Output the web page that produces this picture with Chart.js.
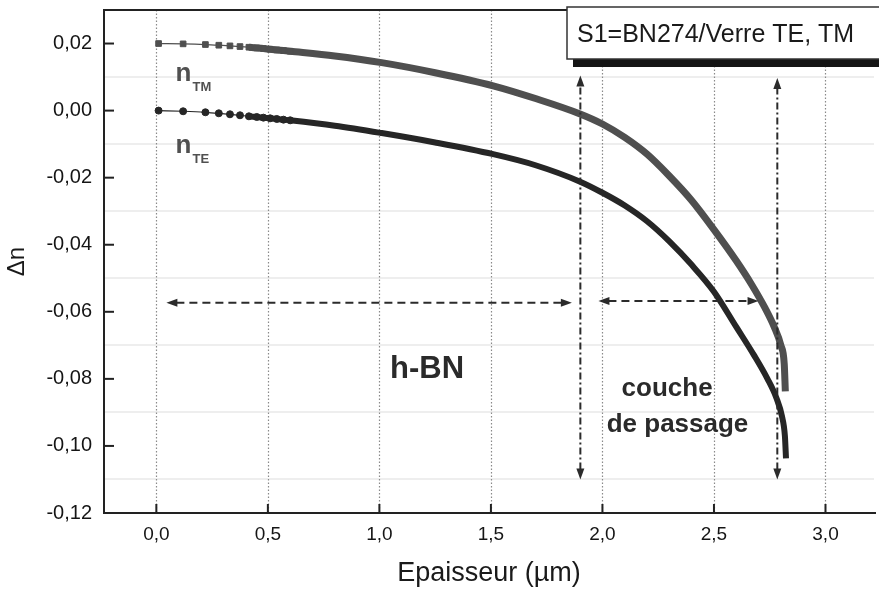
<!DOCTYPE html>
<html>
<head>
<meta charset="utf-8">
<script src="https://cdn.jsdelivr.net/npm/chart.js@4"></script>
<style>
html,body{margin:0;padding:0;background:#fff;overflow:hidden}
canvas{display:block}
</style>
</head>
<body>
<canvas id="grafico" width="879" height="591"></canvas>
<script>
// epaisseur (um) et delta n
const xTM = [0.01,0.12,0.22,0.28,0.33,0.375,0.415,0.45,0.48,0.51,0.54,0.57,0.60,0.80,1.01,1.25,1.51,1.70,1.90,2.00,2.10,2.20,2.30,2.40,2.50,2.60,2.67,2.73,2.77,2.80,2.815,2.82];
const yTM = [0.0200,0.0199,0.0197,0.0195,0.0193,0.0191,0.0189,0.0187,0.0185,0.0183,0.0181,0.0179,0.0177,0.0163,0.0143,0.0113,0.0074,0.0036,-0.0010,-0.0040,-0.0080,-0.0130,-0.0195,-0.0268,-0.0355,-0.0448,-0.0520,-0.0590,-0.0645,-0.0700,-0.0755,-0.0837];
const xTE = [0.01,0.12,0.22,0.28,0.33,0.375,0.415,0.45,0.48,0.51,0.54,0.57,0.60,0.80,1.01,1.25,1.51,1.70,1.90,2.00,2.10,2.20,2.30,2.40,2.50,2.60,2.68,2.74,2.78,2.805,2.818,2.823];
const yTE = [0.0000,-0.0002,-0.0005,-0.0008,-0.0011,-0.0014,-0.0017,-0.0019,-0.0021,-0.0023,-0.0025,-0.0027,-0.0029,-0.0045,-0.0067,-0.0095,-0.0130,-0.0163,-0.0212,-0.0245,-0.0283,-0.0330,-0.0390,-0.0460,-0.0540,-0.0645,-0.0730,-0.0800,-0.0857,-0.0912,-0.0970,-0.1037];

const xTicks = [0, 0.5, 1.0, 1.5, 2.0, 2.5, 3.0];
const yTicks = [-0.12, -0.10, -0.08, -0.06, -0.04, -0.02, 0.00, 0.02];
const yMinor = [-0.11, -0.09, -0.07, -0.05, -0.03, -0.01, 0.01];

// fleches (coordonnees en unites du graphique)
const flechesV = [{x: 1.901, y0: 0.0105, y1: -0.110}, {x: 2.784, y0: 0.0097, y1: -0.110}];
const flechesH = [{y: -0.0573, x0: 0.045, x1: 1.863}, {y: -0.0568, x0: 1.982, x1: 2.70}];

const textes = [
  {t: 'n', x: 0.086, y: 0.0087, font: 'bold 26px "Liberation Sans"', c: '#505050'},
  {t: 'TM', x: 0.162, y: 0.0057, font: 'bold 13px "Liberation Sans"', c: '#505050'},
  {t: 'n', x: 0.086, y: -0.0126, font: 'bold 26px "Liberation Sans"', c: '#505050'},
  {t: 'TE', x: 0.162, y: -0.0156, font: 'bold 13px "Liberation Sans"', c: '#505050'},
  {t: 'h-BN', x: 1.048, y: -0.0798, font: 'bold 31px "Liberation Sans"', c: '#2a2a2a'},
  {t: 'couche', x: 2.086, y: -0.0852, font: 'bold 26px "Liberation Sans"', c: '#2a2a2a'},
  {t: 'de passage', x: 2.019, y: -0.0959, font: 'bold 26px "Liberation Sans"', c: '#2a2a2a'}
];

Chart.defaults.font.family = '"Liberation Sans", Arial, sans-serif';

function pointe(ctx, x, y, ang) {
  ctx.save();
  ctx.translate(x, y);
  ctx.rotate(ang);
  ctx.beginPath();
  ctx.moveTo(0, 0);
  ctx.lineTo(-11, -4);
  ctx.lineTo(-11, 4);
  ctx.closePath();
  ctx.fill();
  ctx.restore();
}

function fleche(ctx, x0, y0, x1, y1, dash) {
  const ang = Math.atan2(y1 - y0, x1 - x0);
  const dx = Math.cos(ang) * 10, dy = Math.sin(ang) * 10;
  ctx.save();
  ctx.strokeStyle = '#2b2b2b';
  ctx.fillStyle = '#2b2b2b';
  ctx.lineWidth = 2;
  ctx.setLineDash(dash);
  ctx.beginPath();
  ctx.moveTo(x0 + dx, y0 + dy);
  ctx.lineTo(x1 - dx, y1 - dy);
  ctx.stroke();
  ctx.setLineDash([]);
  pointe(ctx, x1, y1, ang);
  pointe(ctx, x0, y0, ang + Math.PI);
  ctx.restore();
}

const habillage = {
  id: 'habillage',
  beforeDatasetsDraw(chart) {
    const {ctx, chartArea: a, scales: {x, y}} = chart;
    ctx.save();
    ctx.strokeStyle = '#eeeeee';
    ctx.lineWidth = 2;
    yMinor.forEach(v => {
      const py = Math.round(y.getPixelForValue(v));
      ctx.beginPath(); ctx.moveTo(a.left, py); ctx.lineTo(a.right, py); ctx.stroke();
    });
    ctx.strokeStyle = '#8a8a8a';
    ctx.lineWidth = 1.2;
    ctx.setLineDash([1.5, 2]);
    xTicks.forEach(v => {
      const px = Math.round(x.getPixelForValue(v)) + 0.5;
      ctx.beginPath(); ctx.moveTo(px, a.top); ctx.lineTo(px, a.bottom); ctx.stroke();
    });
    ctx.restore();
  },
  afterDatasetsDraw(chart) {
    const {ctx, chartArea: a, scales: {x, y}} = chart;
    flechesV.forEach(f => fleche(ctx, x.getPixelForValue(f.x), y.getPixelForValue(f.y1), x.getPixelForValue(f.x), y.getPixelForValue(f.y0), [7, 3, 2, 3]));
    flechesH.forEach(f => fleche(ctx, x.getPixelForValue(f.x0), y.getPixelForValue(f.y), x.getPixelForValue(f.x1), y.getPixelForValue(f.y), [8, 5]));

    ctx.save();
    ctx.textBaseline = 'alphabetic';
    textes.forEach(t => {
      ctx.font = t.font;
      ctx.fillStyle = t.c;
      ctx.fillText(t.t, x.getPixelForValue(t.x), y.getPixelForValue(t.y));
    });

    // cadre
    ctx.strokeStyle = '#222';
    ctx.lineWidth = 2;
    ctx.beginPath();
    ctx.moveTo(a.right + 2, a.top); ctx.lineTo(a.left, a.top); ctx.lineTo(a.left, a.bottom); ctx.lineTo(a.right + 2, a.bottom);
    ctx.stroke();
    yTicks.forEach(v => {
      const py = y.getPixelForValue(v);
      ctx.beginPath(); ctx.moveTo(a.left, py); ctx.lineTo(a.left + 10, py); ctx.stroke();
    });
    xTicks.forEach(v => {
      const px = x.getPixelForValue(v);
      ctx.beginPath(); ctx.moveTo(px, a.bottom); ctx.lineTo(px, a.bottom - 9); ctx.stroke();
    });

    // legende
    const bx = a.right - 307, by = a.top - 3, bw = 330, bh = 52;
    ctx.fillStyle = '#151515';
    ctx.fillRect(bx + 6, by + bh, bw, 8);
    ctx.fillStyle = '#fff';
    ctx.fillRect(bx, by, bw, bh);
    ctx.strokeStyle = '#333';
    ctx.lineWidth = 1.5;
    ctx.strokeRect(bx, by, bw, bh);
    ctx.fillStyle = '#1a1a1a';
    ctx.font = '25px "Liberation Sans"';
    ctx.fillText('S1=BN274/Verre TE, TM', bx + 10, by + 35);
    ctx.restore();
  }
};

const serie = (xs, ys) => xs.map((v, i) => ({x: v, y: ys[i]}));

new Chart(document.getElementById('grafico'), {
  type: 'line',
  data: {
    datasets: [
      {
        label: 'TM',
        data: serie(xTM, yTM),
        borderColor: '#4f4f4f',
        backgroundColor: '#4f4f4f',
        pointStyle: 'rect',
        pointRadius: c => (c.raw && c.raw.x <= 0.6 ? 4 : 0),
        segment: {borderWidth: c => (c.p0.parsed.x < 0.4 ? 1.2 : 7)},
        cubicInterpolationMode: 'monotone',
        borderCapStyle: 'butt'
      },
      {
        label: 'TE',
        data: serie(xTE, yTE),
        borderColor: '#262626',
        backgroundColor: '#262626',
        pointStyle: 'circle',
        pointRadius: c => (c.raw && c.raw.x <= 0.6 ? 3.5 : 0),
        segment: {borderWidth: c => (c.p0.parsed.x < 0.4 ? 1.2 : 6)},
        cubicInterpolationMode: 'monotone',
        borderCapStyle: 'butt'
      }
    ]
  },
  options: {
    responsive: false,
    animation: false,
    devicePixelRatio: 1,
    layout: {padding: {top: 10, right: 0, left: 0, bottom: 0}},
    plugins: {legend: {display: false}, tooltip: {enabled: false}},
    scales: {
      x: {
        type: 'linear',
        min: -0.2347,
        max: 3.2175,
        afterBuildTicks: ax => { ax.ticks = xTicks.map(v => ({value: v})); },
        afterFit: ax => { ax.height = 78; ax.paddingLeft = 0; ax.paddingRight = 0; },
        grid: {display: false, drawTicks: false},
        border: {display: false},
        ticks: {padding: 10, color: '#151515', font: {size: 19}, maxRotation: 0, callback: v => v.toFixed(1).replace('.', ',')},
        title: {display: true, text: 'Epaisseur (\u00b5m)', color: '#1a1a1a', font: {size: 27}, padding: {top: 1, bottom: 1}}
      },
      y: {
        type: 'linear',
        min: -0.12,
        max: 0.03,
        afterBuildTicks: ax => { ax.ticks = yTicks.map(v => ({value: v})); },
        afterFit: ax => { ax.width = 104; ax.paddingTop = 0; ax.paddingBottom = 0; },
        grid: {display: false, drawTicks: false},
        border: {display: false},
        ticks: {padding: 12, color: '#151515', font: {size: 20}, callback: v => v.toFixed(2).replace('.', ',')},
        title: {display: true, text: '\u0394n', color: '#1a1a1a', font: {size: 24}, padding: {top: 3, bottom: 0}}
      }
    }
  },
  plugins: [habillage]
});
</script>
</body>
</html>
